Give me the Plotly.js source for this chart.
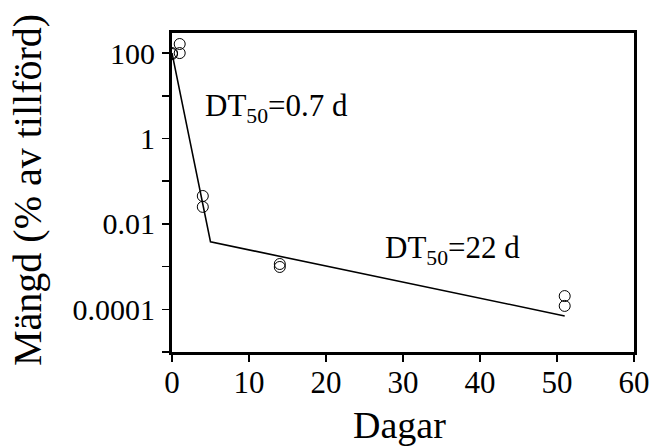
<!DOCTYPE html>
<html>
<head>
<meta charset="utf-8">
<script src="https://cdn.plot.ly/plotly-3.0.1.min.js"></script>
<style>html,body{margin:0;padding:0;background:#fff;}#chart{width:655px;height:448px;}</style>
</head>
<body>
<div id="chart"></div>
<script>
var obsDays = [0, 0, 1, 1, 4, 4, 14, 14, 51, 51];
var obsAmount = [100, 95, 163, 100, 0.045, 0.025, 0.00115, 0.00098, 0.000204, 0.00012];
var fitDays = [0, 5, 51];
var fitAmount = [100, 0.0038, 0.00007];
var yTickVals = [1e-4, 1e-2, 1, 100];
var yTickText = ['0.0001', '0.01', '1', '100'];
var yMinorVals = [1e-5, 1e-3, 1e-1, 10];
var xTickVals = [0, 10, 20, 30, 40, 50, 60];
var label1 = 'DT<sub>50</sub>=0.7 d';
var label2 = 'DT<sub>50</sub>=22 d';
var xTitle = 'Dagar';
var yTitle = 'Mängd (% av tillförd)';

var font = "'Liberation Serif', 'Times New Roman', serif";
var data = [
  {x: fitDays, y: fitAmount, mode: 'lines', line: {color: '#000', width: 1.6}, hoverinfo: 'none'},
  {x: obsDays, y: obsAmount, mode: 'markers', marker: {symbol: 'circle-open', size: 11, color: '#000', line: {width: 1, color: '#000'}}}
];
var layout = {
  width: 655, height: 448,
  margin: {l: 172, r: 21, t: 33, b: 96},
  showlegend: false,
  paper_bgcolor: '#fff', plot_bgcolor: '#fff',
  font: {family: font, color: '#000', size: 30},
  xaxis: {
    range: [0, 60], tickvals: xTickVals, ticks: 'outside', ticklen: 7, tickwidth: 1.5, tickcolor: '#000',
    showline: true, linewidth: 3, linecolor: '#000', mirror: true, showgrid: false, zeroline: false,
    ticklabelstandoff: -6,
    tickfont: {family: font, size: 31, color: '#000'}
  },
  yaxis: {
    type: 'log', range: [-5, 2.47], tickvals: yTickVals, ticktext: yTickText,
    ticks: 'outside', ticklen: 7, tickwidth: 1.5, tickcolor: '#000',
    minor: {tickvals: yMinorVals, ticks: 'outside', ticklen: 7, tickwidth: 1.5, tickcolor: '#000', showgrid: false},
    showline: true, linewidth: 3, linecolor: '#000', mirror: true, showgrid: false, zeroline: false,
    ticklabelstandoff: 1,
    tickfont: {family: font, size: 30, color: '#000'}
  },
  annotations: [
    {text: label1, showarrow: false, font: {family: font, size: 31}},
    {text: label2, showarrow: false, font: {family: font, size: 31}},
    {text: xTitle, showarrow: false, font: {family: font, size: 38}},
    {text: yTitle, textangle: -90, showarrow: false, font: {family: font, size: 40}}
  ]
};
// place annotations relative to the plot area (paper fractions)
(function(){
  var L = 172, R = 634, T = 33, B = 352;
  var a = layout.annotations;
  function px(x){ return (x - L) / (R - L); }
  function py(y){ return (B - y) / (B - T); }
  a.forEach(function(t){ t.xref = 'paper'; t.yref = 'paper'; });
  a[0].x = px(203); a[0].y = py(108); a[0].xanchor = 'left'; a[0].yanchor = 'middle';
  a[1].x = px(383); a[1].y = py(250); a[1].xanchor = 'left'; a[1].yanchor = 'middle';
  a[2].x = px(399); a[2].y = py(425); a[2].xanchor = 'center'; a[2].yanchor = 'middle';
  a[3].x = px(27); a[3].y = py(190); a[3].xanchor = 'center'; a[3].yanchor = 'middle';
})();
Plotly.newPlot('chart', data, layout, {displayModeBar: false, staticPlot: true});
</script>
</body>
</html>
